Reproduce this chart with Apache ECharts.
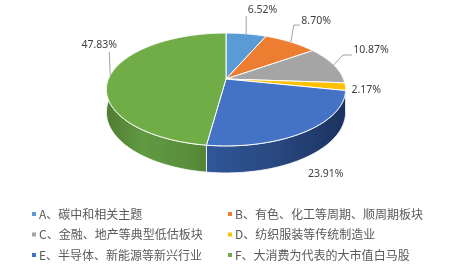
<!DOCTYPE html>
<html><head><meta charset="utf-8">
<script src="https://cdn.jsdelivr.net/npm/echarts@6/dist/echarts.min.js"></script>
<style>html,body{margin:0;padding:0;background:#fff}#c{width:453px;height:264px}</style>
</head><body><div id="c"></div>
<script>
// ---- data ----
const categories = [
  'A、碳中和相关主题',
  'B、有色、化工等周期、顺周期板块',
  'C、金融、地产等典型低估板块',
  'D、纺织服装等传统制造业',
  'E、半导体、新能源等新兴行业',
  'F、大消费为代表的大市值白马股'
];
const values = [6.52, 8.70, 10.87, 2.17, 23.91, 47.83];
const legendLeftItems = [categories[0], categories[2], categories[4]];
const legendRightItems = [categories[1], categories[3], categories[5]];

// ---- style ----
const topColors = ['#5B9BD5', '#ED7D31', '#A5A5A5', '#FFC000', '#4472C4', '#70AD47'];
const sideStops = [
  [[0, '#4a82b5'], [1, '#3a6794']],
  [[0, '#c9661f'], [1, '#a85518']],
  [[0, '#8c8c8c'], [1, '#707070']],
  [[0, '#d9a300'], [1, '#b88a00']],
  [[0, '#30579a'], [0.5, '#28487f'], [1, '#1c3260']],
  [[0, '#4f7c31'], [0.3, '#619a43'], [0.7, '#598d3b'], [1, '#4a772c']]
];
// perspective ellipse geometry
const geo = { cx: 226, cy: 79, A: 54.5, B: 117.5, c: 0.1855, T: 22 };
// label layout relative to slice anchor on the top rim
const labelLayout = [
  { dx: 1.5, dy: -23.7, align: 'left', leader: [[0, 0], [0, -18]] },
  { dx: 10.5, dy: -20.7, align: 'left', leader: [[0, 0], [3, -17], [9, -17]] },
  { dx: 19.5, dy: -14.7, align: 'left', leader: [[0, 0], [9, -10], [18, -10]] },
  { dx: 6, dy: 3.4, align: 'left', leader: null },
  { dx: 2, dy: 42.5, align: 'left', leader: null },
  { dx: -11, dy: -30.3, align: 'center', leader: [[0, 0], [-1, -23.5]] }
];

const total = values.reduce((a, b) => a + b, 0);
const starts = [];
values.reduce((acc, v, i) => { starts[i] = acc; return acc + v; }, 0);

function proj(theta, h) {
  const D = Math.cos(theta), X = Math.sin(theta);
  const s = 1 / (1 + geo.c * D);
  return [geo.cx + geo.B * X * s, geo.cy - geo.A * D * s + geo.T * s * h];
}
function arc(a0, a1, h) {
  const n = Math.max(2, Math.ceil((a1 - a0) / (Math.PI / 180)));
  const pts = [];
  for (let k = 0; k <= n; k++) pts.push(proj(a0 + (a1 - a0) * k / n, h));
  return pts;
}
function angles(i, v) {
  const a0 = starts[i] / total * Math.PI * 2;
  return [a0, a0 + v / total * Math.PI * 2];
}

function renderWall(params, api) {
  const i = params.dataIndex, v = api.value(0);
  const [a0, a1] = angles(i, v);
  const pts = arc(a0, a1, 0).concat(arc(a0, a1, 1).reverse());
  return {
    type: 'polygon', shape: { points: pts },
    style: { fill: new echarts.graphic.LinearGradient(0, 0, 1, 0, sideStops[i].map(s => ({ offset: s[0], color: s[1] }))), stroke: '#ffffff', lineWidth: 0.8 }
  };
}
function renderTop(params, api) {
  const i = params.dataIndex, v = api.value(0);
  const [a0, a1] = angles(i, v);
  const pts = [[geo.cx, geo.cy]].concat(arc(a0, a1, 0));
  const anchor = proj((a0 + a1) / 2, 0);
  const L = labelLayout[i];
  const children = [{
    type: 'polygon', shape: { points: pts },
    style: { fill: topColors[i], stroke: '#ffffff', lineWidth: 1 }
  }];
  if (L.leader) {
    children.push({
      type: 'polyline', shape: { points: L.leader.map(p => [anchor[0] + p[0], anchor[1] + p[1]]) },
      style: { stroke: '#8c8c8c', lineWidth: 0.8, fill: null }
    });
  }
  children.push({
    type: 'text', x: anchor[0] + L.dx, y: anchor[1] + L.dy,
    style: { text: v.toFixed(2) + '%', fill: '#404040', fontSize: 10.5, fontFamily: 'Noto Sans', align: L.align, verticalAlign: 'middle' }
  });
  return { type: 'group', children };
}

const chart = echarts.init(document.getElementById('c'), null, { renderer: 'canvas' });
const legendBase = {
  type: 'plain', orient: 'vertical', top: 207, itemWidth: 4, itemHeight: 4, icon: 'rect', itemGap: 6.5,
  padding: 0, selectedMode: false,
  textStyle: { color: '#595959', fontSize: 12, fontFamily: 'Noto Sans CJK SC', lineHeight: 14, padding: [0, 0, 0, -2] }
};
chart.setOption({
  animation: false,
  backgroundColor: '#ffffff',
  legend: [
    Object.assign({}, legendBase, { left: 32, data: legendLeftItems }),
    Object.assign({}, legendBase, { left: 228, data: legendRightItems })
  ],
  series: [
    {
      type: 'pie', radius: [0, 0], center: [-50, -50], silent: true,
      label: { show: false }, labelLine: { show: false },
      data: categories.map((n, i) => ({ name: n, value: values[i], itemStyle: { color: topColors[i] } }))
    },
    { type: 'custom', coordinateSystem: 'none', z: 1, silent: true, renderItem: renderWall, data: values.map((v, i) => [v, i]) },
    { type: 'custom', coordinateSystem: 'none', z: 2, silent: true, renderItem: renderTop, data: values.map((v, i) => [v, i]) }
  ]
});
</script></body></html>
